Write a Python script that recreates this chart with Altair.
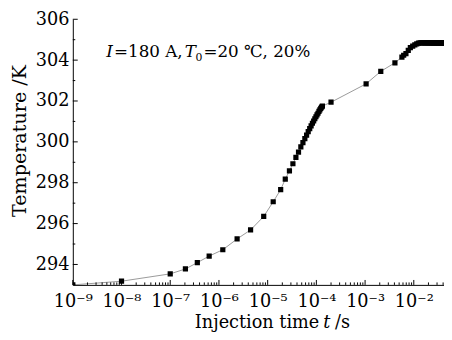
import altair as alt
import pandas as pd

# ---- data ----
time_s = [
    1e-9, 1e-8, 1e-7, 2.05e-7, 3.6e-7, 6.3e-7, 1.2e-6, 2.36e-6, 4.46e-6, 8.3e-6,
    1.3e-5, 1.85e-5, 2.3e-5,
    2.8e-5, 3.3e-5, 3.8e-5, 4.3e-5, 4.8e-5, 5.3e-5, 5.8e-5, 6.3e-5, 6.8e-5, 7.3e-5,
    7.8e-5, 8.3e-5, 8.8e-5, 9.3e-5, 9.8e-5, 1.03e-4, 1.08e-4, 1.13e-4, 1.18e-4,
    1.23e-4, 1.28e-4, 1.33e-4,
    2.0e-4, 1.05e-3, 2.1e-3, 4.1e-3,
    5.7e-3, 6.2e-3, 6.9e-3, 7.7e-3, 8.5e-3, 9.5e-3, 1.05e-2, 1.15e-2, 1.25e-2,
    1.35e-2, 1.45e-2, 1.55e-2, 1.65e-2, 1.75e-2, 1.85e-2, 1.95e-2, 2.05e-2, 2.15e-2,
    2.25e-2, 2.35e-2, 2.45e-2, 2.55e-2, 2.65e-2, 2.75e-2, 2.85e-2, 2.95e-2, 3.05e-2,
    3.15e-2, 3.25e-2, 3.35e-2, 3.45e-2, 3.55e-2, 3.65e-2, 3.75e-2, 3.85e-2, 3.95e-2,
    4.05e-2, 4.15e-2, 4.25e-2,
]
temperature_K = [
    293.0, 293.18, 293.54, 293.78, 294.09, 294.41, 294.72, 295.25, 295.69, 296.35,
    297.07, 297.66, 298.18,
    298.58, 298.93, 299.24, 299.50, 299.75, 299.96, 300.16, 300.33, 300.50, 300.65,
    300.78, 300.91, 301.02, 301.13, 301.23, 301.32, 301.40, 301.49, 301.57,
    301.64, 301.70, 301.75,
    301.94, 302.84, 303.45, 303.87,
    304.15, 304.24, 304.32, 304.48, 304.61, 304.69, 304.75, 304.80, 304.83,
    304.84, 304.84, 304.84, 304.84, 304.84, 304.84, 304.84, 304.84, 304.84,
    304.84, 304.84, 304.84, 304.84, 304.84, 304.84, 304.84, 304.84, 304.84,
    304.84, 304.84, 304.84, 304.84, 304.84, 304.84, 304.84, 304.84, 304.84,
    304.84, 304.84, 304.84,
]

x_ticks = [1e-9, 1e-8, 1e-7, 1e-6, 1e-5, 1e-4, 1e-3, 1e-2]
x_tick_labels = ["10⁻⁹", "10⁻⁸", "10⁻⁷", "10⁻⁶", "10⁻⁵", "10⁻⁴", "10⁻³", "10⁻²"]
x_minor = [m * d for d in x_ticks for m in range(2, 10)]
y_ticks = [294, 296, 298, 300, 302, 304, 306]
y_minor = [293, 295, 297, 299, 301, 303, 305]

x_domain = [1e-9, 0.0417]
y_domain = [293, 306]

W, H = 378, 270.5
FONT = "DejaVu Serif"

df = pd.DataFrame({"t": time_s, "T": temperature_K})

xs = alt.Scale(type="log", domain=x_domain, nice=False)
ys = alt.Scale(domain=y_domain, nice=False, zero=False)

label_arr = "[" + ",".join("'%s'" % s for s in x_tick_labels) + "]"

x_axis = alt.Axis(
    values=x_ticks, ticks=False, tickSize=0, grid=False,
    labelExpr=label_arr + "[round(log(datum.value)/LN10)+9]",
    labelFont=FONT, labelFontSize=18, labelColor="black", labelPadding=8,
    domainColor="black", title=None, labelFlush=False,
)
y_axis = alt.Axis(
    values=y_ticks, ticks=False, tickSize=0, grid=False,
    labelFont=FONT, labelFontSize=18, labelColor="black", labelPadding=4,
    domainColor="black", title="Temperature /K", titleFont=FONT,
    titleFontSize=19.5, titleFontWeight="normal", titleColor="black",
    titleAngle=-90, titleX=-48, titleY=123.5, titleBaseline="alphabetic",
    titleAlign="center",
)

base = alt.Chart(df)
line = base.mark_line(color="#999999", strokeWidth=1, clip=True).encode(
    x=alt.X("t:Q", scale=xs, axis=x_axis),
    y=alt.Y("T:Q", scale=ys, axis=y_axis),
)
pts = base.mark_point(shape="square", filled=True, color="black", size=28,
                      opacity=1, clip=True).encode(
    x=alt.X("t:Q", scale=xs),
    y=alt.Y("T:Q", scale=ys),
)

xt = alt.Chart(pd.DataFrame({"v": x_ticks})).mark_rule(color="black").encode(
    x=alt.X("v:Q", scale=xs), y=alt.value(H), y2=alt.value(H - 5))
xm = alt.Chart(pd.DataFrame({"v": x_minor})).mark_rule(color="black", clip=True).encode(
    x=alt.X("v:Q", scale=xs), y=alt.value(H), y2=alt.value(H - 2.5))
yt = alt.Chart(pd.DataFrame({"v": y_ticks})).mark_rule(color="black").encode(
    y=alt.Y("v:Q", scale=ys), x=alt.value(0), x2=alt.value(5))
ym = alt.Chart(pd.DataFrame({"v": y_minor})).mark_rule(color="black").encode(
    y=alt.Y("v:Q", scale=ys), x=alt.value(0), x2=alt.value(2.5))

def txt(s, x, y, size, italic=False, align="left"):
    return alt.Chart(pd.DataFrame({"s": [s]})).mark_text(
        font=FONT, fontSize=size, fontStyle="italic" if italic else "normal",
        align=align, baseline="alphabetic", color="black",
    ).encode(text="s:N", x=alt.value(x), y=alt.value(y))

ann_y = 38.5
annotation = [
    txt("I", 34, ann_y, 17, italic=True),
    txt("=180 A,", 42, ann_y, 17),
    txt("T", 114, ann_y, 17, italic=True),
    txt("0", 125, ann_y + 4, 11),
    txt("=20 ℃, 20%", 133, ann_y, 17),
]
xtitle = [
    txt("Injection time", 251, 314.5, 18, align="right"),
    txt("t", 255, 314.5, 18, italic=True),
    txt("/s", 267, 314.5, 18),
]

chart = alt.layer(line, pts, xt, xm, yt, ym, *annotation, *xtitle).properties(
    width=W, height=H,
    autosize=alt.AutoSizeParams(type="none"),
    padding={"left": 66, "top": 8.5, "right": 0, "bottom": 45},
    background="white",
).configure_view(stroke=None)

chart.save("out.html", embed_options={"renderer": "svg", "actions": False})
